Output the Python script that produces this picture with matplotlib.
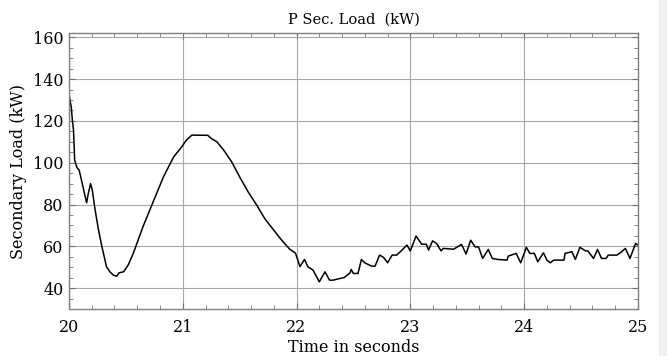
import matplotlib
matplotlib.use("Agg")
import matplotlib.pyplot as plt
from matplotlib.patches import Rectangle
from matplotlib.ticker import MultipleLocator

# secondary load trace (time in s, load in kW)
time_s = [20.00, 20.02, 20.03, 20.04, 20.05, 20.07, 20.09, 20.11, 20.13, 20.155,
          20.17, 20.19, 20.205, 20.23, 20.26, 20.29, 20.33, 20.36, 20.39, 20.42,
          20.44, 20.48, 20.52, 20.565, 20.65, 20.74, 20.83, 20.92, 20.99, 21.03,
          21.08, 21.22, 21.25, 21.30, 21.36, 21.43, 21.50, 21.575, 21.65, 21.72,
          21.80, 21.87, 21.94, 21.99, 22.03, 22.07, 22.10, 22.145, 22.20, 22.25,
          22.29, 22.32, 22.42, 22.47, 22.48, 22.50, 22.54, 22.57, 22.60, 22.66,
          22.69, 22.73, 22.765, 22.80, 22.84, 22.88, 22.92, 22.97, 23.00, 23.05,
          23.10, 23.14, 23.16, 23.195, 23.23, 23.27, 23.29, 23.38, 23.45, 23.49,
          23.53, 23.57, 23.60, 23.635, 23.685, 23.72, 23.77, 23.85, 23.86, 23.93,
          23.97, 24.02, 24.05, 24.09, 24.12, 24.17, 24.20, 24.23, 24.26, 24.35,
          24.36, 24.42, 24.45, 24.49, 24.54, 24.56, 24.61, 24.645, 24.68, 24.72,
          24.74, 24.815, 24.85, 24.89, 24.93, 24.98, 25.00]
load_kw = [132.5, 126.7, 120.3, 115.5, 101.2, 97.7, 96.4, 91.6, 86.8, 80.8,
           85.3, 90.0, 86.8, 77.3, 67.7, 59.7, 50.2, 47.8, 46.2, 45.7,
           47.3, 47.8, 51.0, 56.6, 69.3, 81.3, 93.2, 102.8, 107.5, 110.7,
           113.2, 113.1, 111.6, 110.0, 106.0, 100.4, 93.2, 86.0, 79.7, 73.3,
           67.7, 62.9, 58.6, 56.8, 50.3, 53.7, 50.2, 48.6, 43.0, 47.8,
           43.8, 43.8, 45.1, 47.3, 48.9, 47.0, 47.0, 53.7, 52.1, 50.5,
           50.5, 55.8, 54.7, 52.1, 55.8, 55.8, 57.8, 60.6, 57.8, 64.9,
           61.0, 61.0, 58.2, 62.6, 61.4, 57.8, 59.0, 58.6, 60.9, 56.3,
           62.9, 59.7, 59.7, 54.2, 58.5, 54.2, 53.7, 53.4, 55.3, 56.6,
           52.1, 59.5, 56.6, 56.6, 52.6, 56.9, 53.4, 52.1, 53.4, 53.4,
           56.6, 57.4, 53.7, 59.5, 57.8, 57.8, 54.2, 58.5, 54.2, 54.2,
           55.8, 55.8, 57.1, 59.0, 54.2, 61.4, 60.6]

plt.rcParams['font.family'] = ['DejaVu Serif']

fig = plt.figure(figsize=(6.67, 3.56), dpi=100)
ax = fig.add_axes([0.1034, 0.132, 0.853, 0.775])

ax.plot(time_s, load_kw, color="black", linewidth=1.1)

ax.set_xlim(20, 25)
ax.set_ylim(30, 162)
ax.xaxis.set_major_locator(MultipleLocator(1))
ax.xaxis.set_minor_locator(MultipleLocator(0.2))
ax.yaxis.set_minor_locator(MultipleLocator(5))
ax.set_yticks(range(40, 161, 20))

ax.grid(True, which="major", color="#a8a8a8", linewidth=0.8)
ax.tick_params(which="both", direction="in", top=True, right=True,
               color="#707070", labelsize=11.5)
ax.tick_params(axis="x", pad=7)
ax.tick_params(axis="y", pad=4)
ax.tick_params(which="major", length=4)
ax.tick_params(which="minor", length=3)
for s in ax.spines.values():
    s.set_color("#808080")
    s.set_linewidth(1.0)

ax.set_title("P Sec. Load  (kW)", fontsize=10.5, pad=7)
ax.set_xlabel("Time in seconds", fontsize=11.5, labelpad=2)
ax.set_ylabel("Secondary Load (kW)", fontsize=11.5, labelpad=4)

# faint strip on the right edge of the original screenshot
fig.patches.append(Rectangle((0.988, 0), 0.012, 1, transform=fig.transFigure,
                             color="#f0f0f0", zorder=-1))

fig.savefig("out.png", dpi=100)
